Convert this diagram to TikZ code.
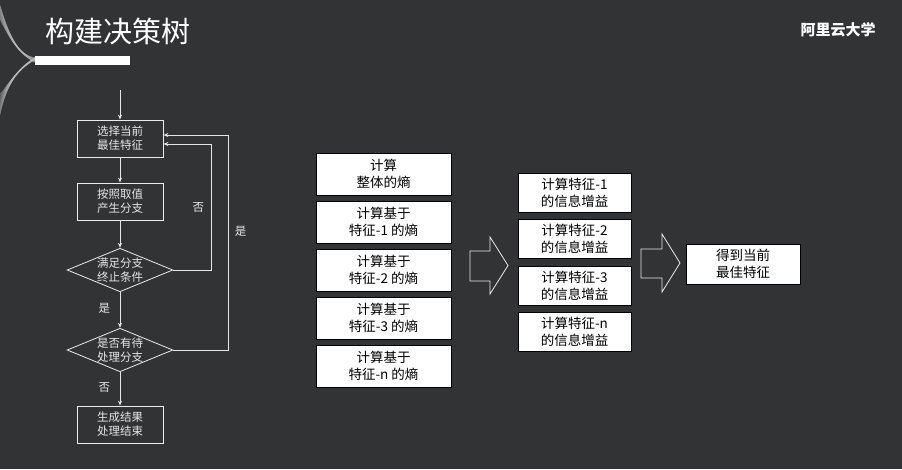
\documentclass[tikz,border=0pt]{standalone}
\usepackage{fontspec}
\setmainfont{Noto Sans CJK SC}
\usetikzlibrary{shapes.geometric,arrows.meta}
\definecolor{bg}{HTML}{323335}
\definecolor{fg}{HTML}{E6E6E6}
\begin{document}
\begin{tikzpicture}[x=1pt,y=-1pt,
  fbox/.style={draw=fg!80,line width=0.8pt,minimum width=86pt,minimum height=37pt,text=fg,font=\fontsize{11.5}{14}\selectfont,align=center,inner sep=0pt},
  fdia/.style={draw=fg!80,line width=0.8pt,diamond,aspect=2.43,minimum width=102pt,minimum height=42pt,text=fg,font=\fontsize{11.5}{14}\selectfont,align=center,inner sep=0pt},
  wbox/.style={draw=black,fill=white,line width=0.8pt,text=black,font=\fontsize{13.5}{17}\selectfont,align=center,inner sep=0pt},
  farr/.style={-{Stealth[length=5pt,width=4pt]},fg,line width=0.9pt},
  lbl/.style={text=fg,font=\fontsize{11.5}{14}\selectfont},
  bigarr/.style={draw=fg!85,line width=0.8pt}]
\fill[bg] (0,0) rectangle (902,469);
\useasboundingbox (0,0) rectangle (902,469);
% decorative curve
\foreach \i in {0,...,14}{
  \draw[gray!50,line width=0.4pt,opacity=0.5] (0,{5+\i}) .. controls (10,40) and (20,55) .. (35,{58+\i*0.3}) ;
  \draw[gray!50,line width=0.4pt,opacity=0.5] (35,{60-\i*0.2}) .. controls (15,70) and (5,90) .. (0,{115-\i*1.5});
}
\node[anchor=west,text=white,font=\fontsize{29}{32}\selectfont] (title) at (42,31) {构建决策树};
\fill[white] (35,56) rectangle (130,65);
\node[text=white,font=\fontsize{15}{17}\selectfont\bfseries] (brand) at (838,30) {阿里云大学};
% flowchart
\coordinate (start) at (120,90);
\node[fbox] (b1) at (120,138.5) {选择当前\\最佳特征};
\node[fbox] (b2) at (120,201.5) {按照取值\\产生分支};
\node[fdia] (d1) at (120,270) {满足分支\\终止条件};
\node[fdia] (d2) at (120,350) {是否有待\\处理分支};
\node[fbox] (b3) at (120,424.5) {生成结果\\处理结束};
\draw[farr] (start) -- (b1);
\draw[farr] (b1) -- (b2);
\draw[farr] (b2) -- (d1);
\draw[farr] (d1) -- node[lbl,left=6pt,pos=0.45]{是} (d2);
\draw[farr] (d2) -- node[lbl,left=6pt,pos=0.45]{否} (b3);
\draw[farr] (d1.east) -- (211,270) -- node[lbl,left=3pt,pos=0.5]{否} (211,144) -- (b1.east |- 0,144);
\draw[farr] (d2.east) -- (228,350) -- node[lbl,right=3pt,pos=0.55]{是} (228,135) -- (b1.east |- 0,135);
% column 1
\foreach \n/\y/\t in {c1/174/{计算\\整体的熵},c2/222/{计算基于\\特征-1 的熵},c3/270/{计算基于\\特征-2 的熵},c4/318/{计算基于\\特征-3 的熵},c5/366/{计算基于\\特征-n 的熵}}
  \node[wbox,minimum width=135pt,minimum height=42pt] (\n) at (383.5,\y) {\t};
\draw[bigarr] (470,251) -- (490,251) -- (490,237) -- (508,265.5) -- (490,294) -- (490,281) -- (470,281) -- cycle;
\foreach \n/\y/\t in {e1/192.5/{计算特征-1\\的信息增益},e2/238.5/{计算特征-2\\的信息增益},e3/285.5/{计算特征-3\\的信息增益},e4/331.5/{计算特征-n\\的信息增益}}
  \node[wbox,minimum width=113pt,minimum height=39pt] (\n) at (574.5,\y) {\t};
\draw[bigarr] (641,249) -- (662,249) -- (662,234) -- (680,263) -- (662,292) -- (662,278) -- (641,278) -- cycle;
\node[wbox,minimum width=114pt,minimum height=40pt] (res) at (743,264) {得到当前\\最佳特征};
\end{tikzpicture}
\end{document}
